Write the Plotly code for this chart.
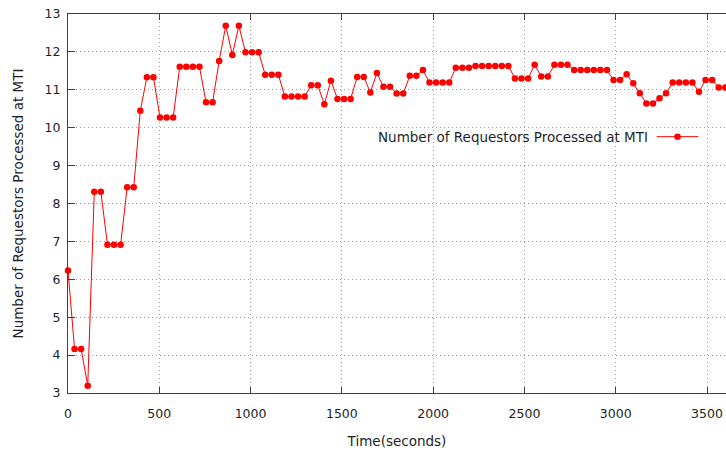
import plotly.graph_objects as go

# Data (sample every 36 s)
time_s = [36 * i for i in range(101)]
requestors = [
    6.23, 4.16, 4.16, 3.19, 8.31, 8.31, 6.91, 6.91, 6.91, 8.43,
    8.43, 10.45, 11.33, 11.33, 10.27, 10.27, 10.27, 11.61, 11.61, 11.61,
    11.61, 10.67, 10.67, 11.76, 12.69, 11.92, 12.69, 11.99, 11.99, 11.99,
    11.40, 11.40, 11.40, 10.82, 10.82, 10.82, 10.82, 11.12, 11.12, 10.62,
    11.24, 10.76, 10.76, 10.76, 11.34, 11.34, 10.93, 11.44, 11.08, 11.08,
    10.90, 10.90, 11.37, 11.37, 11.52, 11.19, 11.19, 11.19, 11.19, 11.58,
    11.58, 11.58, 11.63, 11.63, 11.63, 11.63, 11.63, 11.63, 11.30, 11.30,
    11.30, 11.66, 11.35, 11.35, 11.66, 11.66, 11.66, 11.52, 11.52, 11.52,
    11.52, 11.52, 11.52, 11.26, 11.26, 11.41, 11.17, 10.91, 10.64, 10.64,
    10.78, 10.91, 11.19, 11.19, 11.19, 11.19, 10.95, 11.26, 11.26, 11.06,
    11.06,
]
series_name = "Number of Requestors Processed at MTI"
x_ticks = [0, 500, 1000, 1500, 2000, 2500, 3000, 3500]
y_ticks = list(range(3, 14))

FONT = "DejaVu Sans"
TXT = "#1e1e28"
AX = "#404040"
GRID = "#a0a0a0"
TITLE_SIZE = 13.5
TICK_SIZE = 12.5

fig = go.Figure()
fig.add_trace(go.Scatter(
    x=time_s, y=requestors, mode="lines+markers", name=series_name,
    line=dict(color="#ff0000", width=1),
    marker=dict(color="#ff0000", size=6.5, symbol="circle"),
    showlegend=False, cliponaxis=False,
))

# Legend (gnuplot-style: text left of the sample)
lx0, lx1, ly = 0.8947, 0.9579, 0.6763
fig.add_annotation(
    xref="paper", yref="paper", x=0.8845, y=ly, text=series_name,
    showarrow=False, xanchor="right", yanchor="middle",
    font=dict(family=FONT, size=TITLE_SIZE, color=TXT),
)
fig.add_shape(type="line", xref="paper", yref="paper",
              x0=lx0, x1=lx1, y0=ly, y1=ly,
              line=dict(color="#ff0000", width=1))
lxm = (lx0 + lx1) / 2
fig.add_shape(type="circle", xref="paper", yref="paper",
              x0=lxm - 3.3 / 658, x1=lxm + 3.3 / 658,
              y0=ly - 3.3 / 379, y1=ly + 3.3 / 379,
              fillcolor="#ff0000", line=dict(width=0))

fig.update_layout(
    width=726, height=450,
    margin=dict(l=68, r=0, t=14, b=57),
    paper_bgcolor="white", plot_bgcolor="white",
    font=dict(family=FONT, size=TICK_SIZE, color=TXT),
)
fig.update_xaxes(
    range=[0, 3604], tickvals=x_ticks, ticktext=[str(v) for v in x_ticks],
    tickfont=dict(family=FONT, size=TICK_SIZE, color=TXT),
    showline=True, linecolor=AX, linewidth=1, mirror="ticks",
    ticks="inside", ticklen=6, tickcolor=AX,
    showgrid=True, gridcolor=GRID, griddash="1px,3px", gridwidth=1,
    zeroline=False, ticklabelstandoff=9,
    title=dict(text="Time(seconds)", standoff=16,
               font=dict(family=FONT, size=TITLE_SIZE, color=TXT)),
)
fig.update_yaxes(
    range=[3, 13], tickvals=y_ticks, ticktext=[str(v) for v in y_ticks],
    tickfont=dict(family=FONT, size=TICK_SIZE, color=TXT),
    showline=True, linecolor=AX, linewidth=1, mirror=False,
    ticks="inside", ticklen=7, tickcolor=AX,
    showgrid=True, gridcolor=GRID, griddash="1px,3px", gridwidth=1,
    zeroline=False, ticklabelstandoff=4,
    title=dict(text="Number of Requestors Processed at MTI", standoff=17,
               font=dict(family=FONT, size=TITLE_SIZE, color=TXT)),
)

fig.write_html("out.html")
